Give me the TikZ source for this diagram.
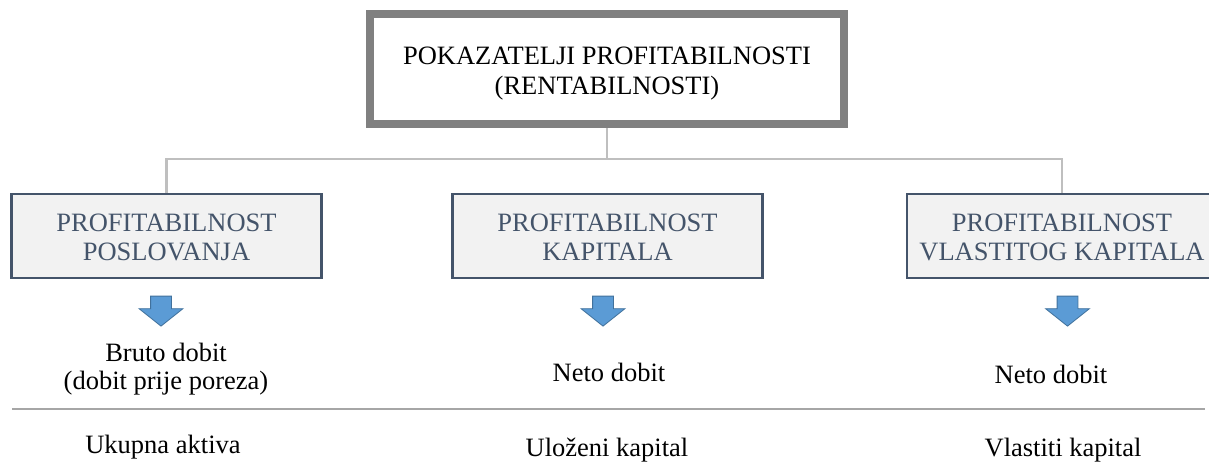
\documentclass[tikz,border=0pt]{standalone}
\usepackage{fontspec}
\setmainfont{Liberation Serif}
\usepackage{tikz}
\usetikzlibrary{positioning, shapes.arrows, calc}

\definecolor{framegray}{HTML}{808080}
\definecolor{linkgray}{HTML}{BFBFBF}
\definecolor{rulegray}{HTML}{A6A6A6}
\definecolor{slate}{HTML}{44546A}
\definecolor{boxfill}{HTML}{F2F2F2}
\definecolor{arrowblue}{HTML}{5B9BD5}
\definecolor{arrowedge}{HTML}{41719C}

\begin{document}
\begin{tikzpicture}[
    x=1bp, y=-1bp,
    font=\fontsize{26.5bp}{29bp}\selectfont,
    titlebox/.style={draw=framegray, line width=8.5bp, fill=white, minimum width=474bp, minimum height=110bp, align=center, font=\fontsize{26.5bp}{30bp}\selectfont, text height=57bp},
    catbox/.style={draw=slate, line width=2.5bp, fill=boxfill, text=slate, minimum width=310bp, minimum height=84bp, align=center, inner sep=0pt, text height=50bp},
    downarrow/.style={single arrow, rotate=-90, draw=arrowedge, fill=arrowblue, line width=0.8bp, inner xsep=0pt, inner ysep=10bp, minimum height=30bp, single arrow head extend=11.5bp, single arrow head indent=0pt, single arrow tip angle=103},
    ratiotext/.style={align=center, inner sep=0pt},
    link/.style={draw=linkgray, line width=2.5bp},
    fracline/.style={draw=rulegray, line width=2.5bp}
]
    \useasboundingbox (0,0) rectangle (1209,463);

    % Top
    \node[titlebox] (title) at (607,69) {POKAZATELJI PROFITABILNOSTI\\(RENTABILNOSTI)};
    \coordinate (hub) at (607,159);

    % Categories
    \node[catbox] (poslovanje) at (166.5,236) {PROFITABILNOST\\POSLOVANJA};
    \node[catbox] (kapital) at (607.5,236) {PROFITABILNOST\\KAPITALA};
    \node[catbox] (vlastiti) at (1062,236) {PROFITABILNOST\\VLASTITOG KAPITALA};

    % Links
    \draw[link] (title.south) -- (hub);
    \draw[link] (hub) -| (poslovanje.north);
    \draw[link] (hub) -| (vlastiti.north);

    % Arrows
    \node[downarrow] (arr1) at (161,307) {};
    \node[downarrow] (arr2) at (603,307) {};
    \node[downarrow] (arr3) at (1067.5,307) {};

    % Numerators
    \node[ratiotext, anchor=base] (num1) at (166,362) {Bruto dobit};
    \node[ratiotext, anchor=base] (num1b) at (166,390) {(dobit prije poreza)};
    \node[ratiotext, anchor=base] (num2) at (609,382) {Neto dobit};
    \node[ratiotext, anchor=base] (num3) at (1051,384) {Neto dobit};

    % Fraction line
    \coordinate (ruleL) at (12,409);
    \coordinate (ruleR) at (1205,409);
    \draw[fracline] (ruleL) -- (ruleR);

    % Denominators
    \node[ratiotext, anchor=base] (den1) at (163,454) {Ukupna aktiva};
    \node[ratiotext, anchor=base] (den2) at (607,457) {Uloženi kapital};
    \node[ratiotext, anchor=base] (den3) at (1063,457) {Vlastiti kapital};
\end{tikzpicture}
\end{document}
